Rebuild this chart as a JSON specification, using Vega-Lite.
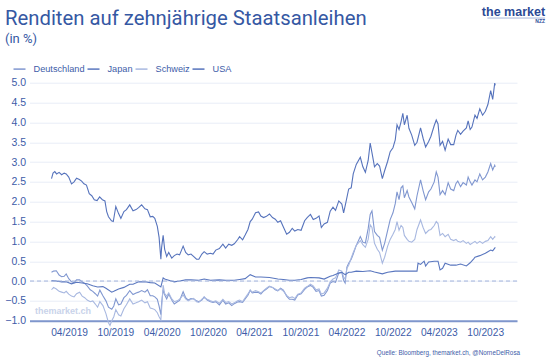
{
"$schema": "https://vega.github.io/schema/vega-lite/v6.json",
"width": 487.5,
"height": 238,
"autosize": {"type": "none"},
"padding": {"left": 29.5, "top": 82.7, "right": 32, "bottom": 38.3},
"background": "white",
"config": {"view": {"stroke": null}, "font": "Liberation Sans"},
"title": {"text": "Renditen auf zehnjährige Staatsanleihen", "subtitle": "(in %)", "anchor": "start", "frame": "group", "dx": -24.5, "offset": -39.5, "font": "Roboto", "fontSize": 20.3, "fontWeight": 400, "color": "#3558a3", "subtitleFont": "Roboto", "subtitleFontSize": 13, "subtitleColor": "#3558a3", "subtitlePadding": 3},
"layer": [
{"data": {"values": [
{"d":"2019-01-02","c":"USA","v":2.58},{"d":"2019-01-08","c":"USA","v":2.72},{"d":"2019-01-15","c":"USA","v":2.76},{"d":"2019-01-22","c":"USA","v":2.70},{"d":"2019-02-01","c":"USA","v":2.74},{"d":"2019-02-11","c":"USA","v":2.68},{"d":"2019-02-21","c":"USA","v":2.72},{"d":"2019-03-01","c":"USA","v":2.70},{"d":"2019-03-11","c":"USA","v":2.62},{"d":"2019-03-22","c":"USA","v":2.45},{"d":"2019-04-01","c":"USA","v":2.50},{"d":"2019-04-11","c":"USA","v":2.59},{"d":"2019-04-22","c":"USA","v":2.56},{"d":"2019-05-01","c":"USA","v":2.52},{"d":"2019-05-10","c":"USA","v":2.45},{"d":"2019-05-20","c":"USA","v":2.42},{"d":"2019-05-31","c":"USA","v":2.20},{"d":"2019-06-10","c":"USA","v":2.15},{"d":"2019-06-20","c":"USA","v":2.05},{"d":"2019-07-01","c":"USA","v":2.03},{"d":"2019-07-11","c":"USA","v":2.12},{"d":"2019-07-22","c":"USA","v":2.05},{"d":"2019-08-01","c":"USA","v":2.02},{"d":"2019-08-08","c":"USA","v":1.75},{"d":"2019-08-15","c":"USA","v":1.62},{"d":"2019-08-27","c":"USA","v":1.52},{"d":"2019-09-03","c":"USA","v":1.50},{"d":"2019-09-13","c":"USA","v":1.88},{"d":"2019-09-24","c":"USA","v":1.70},{"d":"2019-10-03","c":"USA","v":1.58},{"d":"2019-10-15","c":"USA","v":1.75},{"d":"2019-10-25","c":"USA","v":1.80},{"d":"2019-11-07","c":"USA","v":1.92},{"d":"2019-11-20","c":"USA","v":1.77},{"d":"2019-12-02","c":"USA","v":1.80},{"d":"2019-12-12","c":"USA","v":1.85},{"d":"2019-12-24","c":"USA","v":1.92},{"d":"2020-01-06","c":"USA","v":1.82},{"d":"2020-01-16","c":"USA","v":1.80},{"d":"2020-01-27","c":"USA","v":1.62},{"d":"2020-02-06","c":"USA","v":1.63},{"d":"2020-02-14","c":"USA","v":1.58},{"d":"2020-02-24","c":"USA","v":1.38},{"d":"2020-03-02","c":"USA","v":1.10},{"d":"2020-03-09","c":"USA","v":0.55},{"d":"2020-03-12","c":"USA","v":0.85},{"d":"2020-03-18","c":"USA","v":1.15},{"d":"2020-03-24","c":"USA","v":0.80},{"d":"2020-04-01","c":"USA","v":0.62},{"d":"2020-04-09","c":"USA","v":0.72},{"d":"2020-04-21","c":"USA","v":0.58},{"d":"2020-05-01","c":"USA","v":0.64},{"d":"2020-05-12","c":"USA","v":0.68},{"d":"2020-05-22","c":"USA","v":0.66},{"d":"2020-06-05","c":"USA","v":0.88},{"d":"2020-06-15","c":"USA","v":0.72},{"d":"2020-06-25","c":"USA","v":0.66},{"d":"2020-07-06","c":"USA","v":0.68},{"d":"2020-07-16","c":"USA","v":0.62},{"d":"2020-07-28","c":"USA","v":0.55},{"d":"2020-08-06","c":"USA","v":0.55},{"d":"2020-08-18","c":"USA","v":0.68},{"d":"2020-08-27","c":"USA","v":0.74},{"d":"2020-09-08","c":"USA","v":0.68},{"d":"2020-09-21","c":"USA","v":0.70},{"d":"2020-10-01","c":"USA","v":0.68},{"d":"2020-10-12","c":"USA","v":0.78},{"d":"2020-10-26","c":"USA","v":0.82},{"d":"2020-11-09","c":"USA","v":0.93},{"d":"2020-11-20","c":"USA","v":0.83},{"d":"2020-12-02","c":"USA","v":0.93},{"d":"2020-12-14","c":"USA","v":0.90},{"d":"2020-12-24","c":"USA","v":0.94},{"d":"2021-01-06","c":"USA","v":1.04},{"d":"2021-01-14","c":"USA","v":1.12},{"d":"2021-01-26","c":"USA","v":1.04},{"d":"2021-02-05","c":"USA","v":1.16},{"d":"2021-02-16","c":"USA","v":1.30},{"d":"2021-02-25","c":"USA","v":1.50},{"d":"2021-03-05","c":"USA","v":1.56},{"d":"2021-03-18","c":"USA","v":1.72},{"d":"2021-03-30","c":"USA","v":1.74},{"d":"2021-04-08","c":"USA","v":1.64},{"d":"2021-04-19","c":"USA","v":1.60},{"d":"2021-04-30","c":"USA","v":1.63},{"d":"2021-05-12","c":"USA","v":1.69},{"d":"2021-05-24","c":"USA","v":1.60},{"d":"2021-06-04","c":"USA","v":1.56},{"d":"2021-06-14","c":"USA","v":1.48},{"d":"2021-06-25","c":"USA","v":1.52},{"d":"2021-07-06","c":"USA","v":1.36},{"d":"2021-07-19","c":"USA","v":1.18},{"d":"2021-07-30","c":"USA","v":1.23},{"d":"2021-08-10","c":"USA","v":1.33},{"d":"2021-08-20","c":"USA","v":1.26},{"d":"2021-09-01","c":"USA","v":1.30},{"d":"2021-09-14","c":"USA","v":1.28},{"d":"2021-09-28","c":"USA","v":1.52},{"d":"2021-10-08","c":"USA","v":1.60},{"d":"2021-10-21","c":"USA","v":1.68},{"d":"2021-11-01","c":"USA","v":1.55},{"d":"2021-11-12","c":"USA","v":1.58},{"d":"2021-11-24","c":"USA","v":1.64},{"d":"2021-12-03","c":"USA","v":1.35},{"d":"2021-12-14","c":"USA","v":1.44},{"d":"2021-12-27","c":"USA","v":1.48},{"d":"2022-01-07","c":"USA","v":1.76},{"d":"2022-01-18","c":"USA","v":1.86},{"d":"2022-01-28","c":"USA","v":1.78},{"d":"2022-02-10","c":"USA","v":2.02},{"d":"2022-02-22","c":"USA","v":1.94},{"d":"2022-03-01","c":"USA","v":1.72},{"d":"2022-03-10","c":"USA","v":1.98},{"d":"2022-03-21","c":"USA","v":2.32},{"d":"2022-03-31","c":"USA","v":2.35},{"d":"2022-04-08","c":"USA","v":2.70},{"d":"2022-04-20","c":"USA","v":2.94},{"d":"2022-05-06","c":"USA","v":3.12},{"d":"2022-05-16","c":"USA","v":2.88},{"d":"2022-05-26","c":"USA","v":2.74},{"d":"2022-06-06","c":"USA","v":3.04},{"d":"2022-06-14","c":"USA","v":3.48},{"d":"2022-06-24","c":"USA","v":3.13},{"d":"2022-07-01","c":"USA","v":2.88},{"d":"2022-07-12","c":"USA","v":2.96},{"d":"2022-07-21","c":"USA","v":2.90},{"d":"2022-08-01","c":"USA","v":2.58},{"d":"2022-08-10","c":"USA","v":2.78},{"d":"2022-08-22","c":"USA","v":3.02},{"d":"2022-09-01","c":"USA","v":3.26},{"d":"2022-09-12","c":"USA","v":3.36},{"d":"2022-09-21","c":"USA","v":3.56},{"d":"2022-09-28","c":"USA","v":3.94},{"d":"2022-10-06","c":"USA","v":3.82},{"d":"2022-10-14","c":"USA","v":4.02},{"d":"2022-10-21","c":"USA","v":4.23},{"d":"2022-10-27","c":"USA","v":3.94},{"d":"2022-11-07","c":"USA","v":4.18},{"d":"2022-11-14","c":"USA","v":3.85},{"d":"2022-11-25","c":"USA","v":3.68},{"d":"2022-12-07","c":"USA","v":3.42},{"d":"2022-12-16","c":"USA","v":3.50},{"d":"2022-12-30","c":"USA","v":3.86},{"d":"2023-01-09","c":"USA","v":3.60},{"d":"2023-01-19","c":"USA","v":3.38},{"d":"2023-01-31","c":"USA","v":3.52},{"d":"2023-02-09","c":"USA","v":3.65},{"d":"2023-02-22","c":"USA","v":3.92},{"d":"2023-03-02","c":"USA","v":4.06},{"d":"2023-03-09","c":"USA","v":3.96},{"d":"2023-03-17","c":"USA","v":3.42},{"d":"2023-03-27","c":"USA","v":3.52},{"d":"2023-04-06","c":"USA","v":3.30},{"d":"2023-04-18","c":"USA","v":3.58},{"d":"2023-04-28","c":"USA","v":3.44},{"d":"2023-05-10","c":"USA","v":3.44},{"d":"2023-05-19","c":"USA","v":3.68},{"d":"2023-05-26","c":"USA","v":3.80},{"d":"2023-06-06","c":"USA","v":3.70},{"d":"2023-06-16","c":"USA","v":3.78},{"d":"2023-06-29","c":"USA","v":3.86},{"d":"2023-07-06","c":"USA","v":4.04},{"d":"2023-07-14","c":"USA","v":3.82},{"d":"2023-07-21","c":"USA","v":3.88},{"d":"2023-08-02","c":"USA","v":4.18},{"d":"2023-08-10","c":"USA","v":4.10},{"d":"2023-08-21","c":"USA","v":4.34},{"d":"2023-09-01","c":"USA","v":4.18},{"d":"2023-09-12","c":"USA","v":4.28},{"d":"2023-09-22","c":"USA","v":4.45},{"d":"2023-10-03","c":"USA","v":4.80},{"d":"2023-10-11","c":"USA","v":4.58},{"d":"2023-10-19","c":"USA","v":4.99},{"d":"2023-10-21","c":"USA","v":4.93},
{"d":"2019-01-02","c":"Deutschland","v":0.22},{"d":"2019-01-10","c":"Deutschland","v":0.25},{"d":"2019-01-21","c":"Deutschland","v":0.26},{"d":"2019-02-01","c":"Deutschland","v":0.15},{"d":"2019-02-11","c":"Deutschland","v":0.11},{"d":"2019-02-21","c":"Deutschland","v":0.12},{"d":"2019-03-01","c":"Deutschland","v":0.18},{"d":"2019-03-11","c":"Deutschland","v":0.06},{"d":"2019-03-22","c":"Deutschland","v":-0.02},{"d":"2019-04-01","c":"Deutschland","v":-0.04},{"d":"2019-04-11","c":"Deutschland","v":0.03},{"d":"2019-04-23","c":"Deutschland","v":0.03},{"d":"2019-05-03","c":"Deutschland","v":-0.02},{"d":"2019-05-13","c":"Deutschland","v":-0.06},{"d":"2019-05-23","c":"Deutschland","v":-0.12},{"d":"2019-06-04","c":"Deutschland","v":-0.22},{"d":"2019-06-14","c":"Deutschland","v":-0.26},{"d":"2019-06-24","c":"Deutschland","v":-0.32},{"d":"2019-07-03","c":"Deutschland","v":-0.38},{"d":"2019-07-12","c":"Deutschland","v":-0.23},{"d":"2019-07-24","c":"Deutschland","v":-0.37},{"d":"2019-08-05","c":"Deutschland","v":-0.50},{"d":"2019-08-15","c":"Deutschland","v":-0.66},{"d":"2019-08-28","c":"Deutschland","v":-0.71},{"d":"2019-09-05","c":"Deutschland","v":-0.63},{"d":"2019-09-13","c":"Deutschland","v":-0.45},{"d":"2019-09-24","c":"Deutschland","v":-0.60},{"d":"2019-10-03","c":"Deutschland","v":-0.58},{"d":"2019-10-15","c":"Deutschland","v":-0.42},{"d":"2019-10-25","c":"Deutschland","v":-0.36},{"d":"2019-11-07","c":"Deutschland","v":-0.24},{"d":"2019-11-20","c":"Deutschland","v":-0.34},{"d":"2019-12-02","c":"Deutschland","v":-0.30},{"d":"2019-12-12","c":"Deutschland","v":-0.28},{"d":"2019-12-24","c":"Deutschland","v":-0.24},{"d":"2020-01-06","c":"Deutschland","v":-0.28},{"d":"2020-01-16","c":"Deutschland","v":-0.22},{"d":"2020-01-27","c":"Deutschland","v":-0.37},{"d":"2020-02-06","c":"Deutschland","v":-0.37},{"d":"2020-02-14","c":"Deutschland","v":-0.40},{"d":"2020-02-24","c":"Deutschland","v":-0.46},{"d":"2020-03-02","c":"Deutschland","v":-0.63},{"d":"2020-03-09","c":"Deutschland","v":-0.85},{"d":"2020-03-12","c":"Deutschland","v":-0.55},{"d":"2020-03-18","c":"Deutschland","v":-0.22},{"d":"2020-03-24","c":"Deutschland","v":-0.35},{"d":"2020-04-01","c":"Deutschland","v":-0.45},{"d":"2020-04-09","c":"Deutschland","v":-0.33},{"d":"2020-04-21","c":"Deutschland","v":-0.48},{"d":"2020-05-01","c":"Deutschland","v":-0.58},{"d":"2020-05-12","c":"Deutschland","v":-0.53},{"d":"2020-05-22","c":"Deutschland","v":-0.49},{"d":"2020-06-05","c":"Deutschland","v":-0.27},{"d":"2020-06-15","c":"Deutschland","v":-0.42},{"d":"2020-06-25","c":"Deutschland","v":-0.48},{"d":"2020-07-06","c":"Deutschland","v":-0.44},{"d":"2020-07-16","c":"Deutschland","v":-0.45},{"d":"2020-07-28","c":"Deutschland","v":-0.50},{"d":"2020-08-06","c":"Deutschland","v":-0.52},{"d":"2020-08-18","c":"Deutschland","v":-0.48},{"d":"2020-08-27","c":"Deutschland","v":-0.40},{"d":"2020-09-08","c":"Deutschland","v":-0.48},{"d":"2020-09-21","c":"Deutschland","v":-0.52},{"d":"2020-10-01","c":"Deutschland","v":-0.54},{"d":"2020-10-12","c":"Deutschland","v":-0.52},{"d":"2020-10-26","c":"Deutschland","v":-0.60},{"d":"2020-11-09","c":"Deutschland","v":-0.48},{"d":"2020-11-20","c":"Deutschland","v":-0.58},{"d":"2020-12-02","c":"Deutschland","v":-0.55},{"d":"2020-12-14","c":"Deutschland","v":-0.62},{"d":"2020-12-24","c":"Deutschland","v":-0.57},{"d":"2021-01-06","c":"Deutschland","v":-0.53},{"d":"2021-01-14","c":"Deutschland","v":-0.52},{"d":"2021-01-26","c":"Deutschland","v":-0.54},{"d":"2021-02-05","c":"Deutschland","v":-0.45},{"d":"2021-02-16","c":"Deutschland","v":-0.36},{"d":"2021-02-25","c":"Deutschland","v":-0.23},{"d":"2021-03-05","c":"Deutschland","v":-0.30},{"d":"2021-03-18","c":"Deutschland","v":-0.28},{"d":"2021-03-30","c":"Deutschland","v":-0.29},{"d":"2021-04-08","c":"Deutschland","v":-0.33},{"d":"2021-04-19","c":"Deutschland","v":-0.25},{"d":"2021-04-30","c":"Deutschland","v":-0.20},{"d":"2021-05-12","c":"Deutschland","v":-0.14},{"d":"2021-05-24","c":"Deutschland","v":-0.16},{"d":"2021-06-04","c":"Deutschland","v":-0.22},{"d":"2021-06-14","c":"Deutschland","v":-0.25},{"d":"2021-06-25","c":"Deutschland","v":-0.18},{"d":"2021-07-06","c":"Deutschland","v":-0.23},{"d":"2021-07-19","c":"Deutschland","v":-0.38},{"d":"2021-07-30","c":"Deutschland","v":-0.46},{"d":"2021-08-10","c":"Deutschland","v":-0.46},{"d":"2021-08-20","c":"Deutschland","v":-0.48},{"d":"2021-09-01","c":"Deutschland","v":-0.35},{"d":"2021-09-14","c":"Deutschland","v":-0.32},{"d":"2021-09-28","c":"Deutschland","v":-0.21},{"d":"2021-10-08","c":"Deutschland","v":-0.15},{"d":"2021-10-21","c":"Deutschland","v":-0.11},{"d":"2021-11-01","c":"Deutschland","v":-0.16},{"d":"2021-11-12","c":"Deutschland","v":-0.26},{"d":"2021-11-24","c":"Deutschland","v":-0.24},{"d":"2021-12-03","c":"Deutschland","v":-0.38},{"d":"2021-12-14","c":"Deutschland","v":-0.36},{"d":"2021-12-27","c":"Deutschland","v":-0.24},{"d":"2022-01-07","c":"Deutschland","v":-0.05},{"d":"2022-01-18","c":"Deutschland","v":-0.01},{"d":"2022-01-28","c":"Deutschland","v":-0.03},{"d":"2022-02-10","c":"Deutschland","v":0.21},{"d":"2022-02-22","c":"Deutschland","v":0.21},{"d":"2022-03-01","c":"Deutschland","v":0.02},{"d":"2022-03-07","c":"Deutschland","v":-0.05},{"d":"2022-03-14","c":"Deutschland","v":0.35},{"d":"2022-03-21","c":"Deutschland","v":0.45},{"d":"2022-03-31","c":"Deutschland","v":0.55},{"d":"2022-04-08","c":"Deutschland","v":0.68},{"d":"2022-04-20","c":"Deutschland","v":0.90},{"d":"2022-05-06","c":"Deutschland","v":1.12},{"d":"2022-05-16","c":"Deutschland","v":0.98},{"d":"2022-05-26","c":"Deutschland","v":0.96},{"d":"2022-06-06","c":"Deutschland","v":1.32},{"d":"2022-06-14","c":"Deutschland","v":1.68},{"d":"2022-06-21","c":"Deutschland","v":1.77},{"d":"2022-07-01","c":"Deutschland","v":1.25},{"d":"2022-07-12","c":"Deutschland","v":1.15},{"d":"2022-07-21","c":"Deutschland","v":1.10},{"d":"2022-08-01","c":"Deutschland","v":0.78},{"d":"2022-08-10","c":"Deutschland","v":0.95},{"d":"2022-08-22","c":"Deutschland","v":1.28},{"d":"2022-09-01","c":"Deutschland","v":1.55},{"d":"2022-09-12","c":"Deutschland","v":1.72},{"d":"2022-09-21","c":"Deutschland","v":1.95},{"d":"2022-09-28","c":"Deutschland","v":2.25},{"d":"2022-10-06","c":"Deutschland","v":2.05},{"d":"2022-10-14","c":"Deutschland","v":2.35},{"d":"2022-10-21","c":"Deutschland","v":2.40},{"d":"2022-10-27","c":"Deutschland","v":2.10},{"d":"2022-11-07","c":"Deutschland","v":2.28},{"d":"2022-11-14","c":"Deutschland","v":2.12},{"d":"2022-11-25","c":"Deutschland","v":1.98},{"d":"2022-12-07","c":"Deutschland","v":1.82},{"d":"2022-12-16","c":"Deutschland","v":2.15},{"d":"2022-12-30","c":"Deutschland","v":2.55},{"d":"2023-01-09","c":"Deutschland","v":2.28},{"d":"2023-01-19","c":"Deutschland","v":2.05},{"d":"2023-01-31","c":"Deutschland","v":2.25},{"d":"2023-02-09","c":"Deutschland","v":2.32},{"d":"2023-02-22","c":"Deutschland","v":2.50},{"d":"2023-03-02","c":"Deutschland","v":2.75},{"d":"2023-03-09","c":"Deutschland","v":2.62},{"d":"2023-03-17","c":"Deutschland","v":2.18},{"d":"2023-03-27","c":"Deutschland","v":2.28},{"d":"2023-04-06","c":"Deutschland","v":2.18},{"d":"2023-04-18","c":"Deutschland","v":2.48},{"d":"2023-04-28","c":"Deutschland","v":2.32},{"d":"2023-05-10","c":"Deutschland","v":2.28},{"d":"2023-05-19","c":"Deutschland","v":2.46},{"d":"2023-05-26","c":"Deutschland","v":2.52},{"d":"2023-06-06","c":"Deutschland","v":2.38},{"d":"2023-06-16","c":"Deutschland","v":2.48},{"d":"2023-06-29","c":"Deutschland","v":2.42},{"d":"2023-07-06","c":"Deutschland","v":2.62},{"d":"2023-07-14","c":"Deutschland","v":2.50},{"d":"2023-07-21","c":"Deutschland","v":2.42},{"d":"2023-08-02","c":"Deutschland","v":2.55},{"d":"2023-08-10","c":"Deutschland","v":2.50},{"d":"2023-08-21","c":"Deutschland","v":2.70},{"d":"2023-09-01","c":"Deutschland","v":2.55},{"d":"2023-09-12","c":"Deutschland","v":2.62},{"d":"2023-09-22","c":"Deutschland","v":2.75},{"d":"2023-10-03","c":"Deutschland","v":2.96},{"d":"2023-10-11","c":"Deutschland","v":2.80},{"d":"2023-10-19","c":"Deutschland","v":2.92},{"d":"2023-10-21","c":"Deutschland","v":2.88},
{"d":"2019-01-02","c":"Schweiz","v":-0.22},{"d":"2019-01-10","c":"Schweiz","v":-0.16},{"d":"2019-01-21","c":"Schweiz","v":-0.20},{"d":"2019-02-01","c":"Schweiz","v":-0.26},{"d":"2019-02-11","c":"Schweiz","v":-0.28},{"d":"2019-02-21","c":"Schweiz","v":-0.30},{"d":"2019-03-01","c":"Schweiz","v":-0.26},{"d":"2019-03-11","c":"Schweiz","v":-0.33},{"d":"2019-03-22","c":"Schweiz","v":-0.38},{"d":"2019-04-01","c":"Schweiz","v":-0.40},{"d":"2019-04-11","c":"Schweiz","v":-0.32},{"d":"2019-04-23","c":"Schweiz","v":-0.28},{"d":"2019-05-03","c":"Schweiz","v":-0.38},{"d":"2019-05-13","c":"Schweiz","v":-0.42},{"d":"2019-05-23","c":"Schweiz","v":-0.48},{"d":"2019-06-04","c":"Schweiz","v":-0.52},{"d":"2019-06-14","c":"Schweiz","v":-0.50},{"d":"2019-06-24","c":"Schweiz","v":-0.58},{"d":"2019-07-03","c":"Schweiz","v":-0.66},{"d":"2019-07-12","c":"Schweiz","v":-0.52},{"d":"2019-07-24","c":"Schweiz","v":-0.62},{"d":"2019-08-05","c":"Schweiz","v":-0.82},{"d":"2019-08-15","c":"Schweiz","v":-1.05},{"d":"2019-08-21","c":"Schweiz","v":-1.12},{"d":"2019-08-28","c":"Schweiz","v":-1.00},{"d":"2019-09-05","c":"Schweiz","v":-0.90},{"d":"2019-09-13","c":"Schweiz","v":-0.72},{"d":"2019-09-24","c":"Schweiz","v":-0.85},{"d":"2019-10-03","c":"Schweiz","v":-0.88},{"d":"2019-10-15","c":"Schweiz","v":-0.70},{"d":"2019-10-25","c":"Schweiz","v":-0.60},{"d":"2019-11-07","c":"Schweiz","v":-0.45},{"d":"2019-11-20","c":"Schweiz","v":-0.58},{"d":"2019-12-02","c":"Schweiz","v":-0.55},{"d":"2019-12-12","c":"Schweiz","v":-0.52},{"d":"2019-12-24","c":"Schweiz","v":-0.48},{"d":"2020-01-06","c":"Schweiz","v":-0.55},{"d":"2020-01-16","c":"Schweiz","v":-0.52},{"d":"2020-01-27","c":"Schweiz","v":-0.68},{"d":"2020-02-06","c":"Schweiz","v":-0.70},{"d":"2020-02-14","c":"Schweiz","v":-0.72},{"d":"2020-02-24","c":"Schweiz","v":-0.80},{"d":"2020-03-02","c":"Schweiz","v":-0.90},{"d":"2020-03-09","c":"Schweiz","v":-0.98},{"d":"2020-03-12","c":"Schweiz","v":-0.70},{"d":"2020-03-18","c":"Schweiz","v":-0.10},{"d":"2020-03-24","c":"Schweiz","v":-0.32},{"d":"2020-04-01","c":"Schweiz","v":-0.38},{"d":"2020-04-09","c":"Schweiz","v":-0.30},{"d":"2020-04-21","c":"Schweiz","v":-0.45},{"d":"2020-05-01","c":"Schweiz","v":-0.52},{"d":"2020-05-12","c":"Schweiz","v":-0.50},{"d":"2020-05-22","c":"Schweiz","v":-0.46},{"d":"2020-06-05","c":"Schweiz","v":-0.35},{"d":"2020-06-15","c":"Schweiz","v":-0.45},{"d":"2020-06-25","c":"Schweiz","v":-0.50},{"d":"2020-07-06","c":"Schweiz","v":-0.46},{"d":"2020-07-16","c":"Schweiz","v":-0.44},{"d":"2020-07-28","c":"Schweiz","v":-0.52},{"d":"2020-08-06","c":"Schweiz","v":-0.54},{"d":"2020-08-18","c":"Schweiz","v":-0.46},{"d":"2020-08-27","c":"Schweiz","v":-0.42},{"d":"2020-09-08","c":"Schweiz","v":-0.46},{"d":"2020-09-21","c":"Schweiz","v":-0.50},{"d":"2020-10-01","c":"Schweiz","v":-0.52},{"d":"2020-10-12","c":"Schweiz","v":-0.50},{"d":"2020-10-26","c":"Schweiz","v":-0.56},{"d":"2020-11-09","c":"Schweiz","v":-0.46},{"d":"2020-11-20","c":"Schweiz","v":-0.54},{"d":"2020-12-02","c":"Schweiz","v":-0.52},{"d":"2020-12-14","c":"Schweiz","v":-0.58},{"d":"2020-12-24","c":"Schweiz","v":-0.55},{"d":"2021-01-06","c":"Schweiz","v":-0.50},{"d":"2021-01-14","c":"Schweiz","v":-0.48},{"d":"2021-01-26","c":"Schweiz","v":-0.52},{"d":"2021-02-05","c":"Schweiz","v":-0.42},{"d":"2021-02-16","c":"Schweiz","v":-0.32},{"d":"2021-02-25","c":"Schweiz","v":-0.24},{"d":"2021-03-05","c":"Schweiz","v":-0.28},{"d":"2021-03-18","c":"Schweiz","v":-0.24},{"d":"2021-03-30","c":"Schweiz","v":-0.27},{"d":"2021-04-08","c":"Schweiz","v":-0.30},{"d":"2021-04-19","c":"Schweiz","v":-0.24},{"d":"2021-04-30","c":"Schweiz","v":-0.18},{"d":"2021-05-12","c":"Schweiz","v":-0.13},{"d":"2021-05-24","c":"Schweiz","v":-0.16},{"d":"2021-06-04","c":"Schweiz","v":-0.20},{"d":"2021-06-14","c":"Schweiz","v":-0.24},{"d":"2021-06-25","c":"Schweiz","v":-0.20},{"d":"2021-07-06","c":"Schweiz","v":-0.25},{"d":"2021-07-19","c":"Schweiz","v":-0.36},{"d":"2021-07-30","c":"Schweiz","v":-0.42},{"d":"2021-08-10","c":"Schweiz","v":-0.40},{"d":"2021-08-20","c":"Schweiz","v":-0.44},{"d":"2021-09-01","c":"Schweiz","v":-0.33},{"d":"2021-09-14","c":"Schweiz","v":-0.30},{"d":"2021-09-28","c":"Schweiz","v":-0.18},{"d":"2021-10-08","c":"Schweiz","v":-0.14},{"d":"2021-10-21","c":"Schweiz","v":-0.08},{"d":"2021-11-01","c":"Schweiz","v":-0.12},{"d":"2021-11-12","c":"Schweiz","v":-0.22},{"d":"2021-11-24","c":"Schweiz","v":-0.20},{"d":"2021-12-03","c":"Schweiz","v":-0.33},{"d":"2021-12-14","c":"Schweiz","v":-0.30},{"d":"2021-12-27","c":"Schweiz","v":-0.18},{"d":"2022-01-07","c":"Schweiz","v":-0.02},{"d":"2022-01-18","c":"Schweiz","v":0.05},{"d":"2022-01-28","c":"Schweiz","v":0.08},{"d":"2022-02-10","c":"Schweiz","v":0.28},{"d":"2022-02-22","c":"Schweiz","v":0.25},{"d":"2022-03-01","c":"Schweiz","v":0.10},{"d":"2022-03-07","c":"Schweiz","v":0.05},{"d":"2022-03-14","c":"Schweiz","v":0.32},{"d":"2022-03-21","c":"Schweiz","v":0.40},{"d":"2022-03-31","c":"Schweiz","v":0.58},{"d":"2022-04-08","c":"Schweiz","v":0.72},{"d":"2022-04-20","c":"Schweiz","v":0.90},{"d":"2022-05-06","c":"Schweiz","v":1.02},{"d":"2022-05-16","c":"Schweiz","v":0.92},{"d":"2022-05-26","c":"Schweiz","v":0.85},{"d":"2022-06-06","c":"Schweiz","v":1.05},{"d":"2022-06-14","c":"Schweiz","v":1.42},{"d":"2022-06-21","c":"Schweiz","v":1.35},{"d":"2022-07-01","c":"Schweiz","v":0.95},{"d":"2022-07-12","c":"Schweiz","v":0.80},{"d":"2022-07-21","c":"Schweiz","v":0.72},{"d":"2022-08-01","c":"Schweiz","v":0.45},{"d":"2022-08-10","c":"Schweiz","v":0.60},{"d":"2022-08-22","c":"Schweiz","v":0.88},{"d":"2022-09-01","c":"Schweiz","v":1.05},{"d":"2022-09-12","c":"Schweiz","v":1.18},{"d":"2022-09-21","c":"Schweiz","v":1.30},{"d":"2022-09-28","c":"Schweiz","v":1.50},{"d":"2022-10-06","c":"Schweiz","v":1.28},{"d":"2022-10-14","c":"Schweiz","v":1.40},{"d":"2022-10-21","c":"Schweiz","v":1.35},{"d":"2022-10-27","c":"Schweiz","v":1.15},{"d":"2022-11-07","c":"Schweiz","v":1.05},{"d":"2022-11-14","c":"Schweiz","v":1.00},{"d":"2022-11-25","c":"Schweiz","v":0.98},{"d":"2022-12-07","c":"Schweiz","v":1.05},{"d":"2022-12-16","c":"Schweiz","v":1.30},{"d":"2022-12-30","c":"Schweiz","v":1.54},{"d":"2023-01-09","c":"Schweiz","v":1.35},{"d":"2023-01-19","c":"Schweiz","v":1.20},{"d":"2023-01-31","c":"Schweiz","v":1.28},{"d":"2023-02-09","c":"Schweiz","v":1.30},{"d":"2023-02-22","c":"Schweiz","v":1.40},{"d":"2023-03-02","c":"Schweiz","v":1.50},{"d":"2023-03-09","c":"Schweiz","v":1.45},{"d":"2023-03-17","c":"Schweiz","v":1.15},{"d":"2023-03-27","c":"Schweiz","v":1.20},{"d":"2023-04-06","c":"Schweiz","v":1.12},{"d":"2023-04-18","c":"Schweiz","v":1.18},{"d":"2023-04-28","c":"Schweiz","v":1.05},{"d":"2023-05-10","c":"Schweiz","v":1.02},{"d":"2023-05-19","c":"Schweiz","v":1.05},{"d":"2023-05-26","c":"Schweiz","v":1.00},{"d":"2023-06-06","c":"Schweiz","v":0.98},{"d":"2023-06-16","c":"Schweiz","v":1.02},{"d":"2023-06-29","c":"Schweiz","v":0.95},{"d":"2023-07-06","c":"Schweiz","v":0.98},{"d":"2023-07-14","c":"Schweiz","v":0.92},{"d":"2023-07-21","c":"Schweiz","v":0.95},{"d":"2023-08-02","c":"Schweiz","v":1.00},{"d":"2023-08-10","c":"Schweiz","v":0.95},{"d":"2023-08-21","c":"Schweiz","v":1.00},{"d":"2023-09-01","c":"Schweiz","v":0.95},{"d":"2023-09-12","c":"Schweiz","v":1.00},{"d":"2023-09-22","c":"Schweiz","v":1.02},{"d":"2023-10-03","c":"Schweiz","v":1.12},{"d":"2023-10-11","c":"Schweiz","v":1.05},{"d":"2023-10-19","c":"Schweiz","v":1.12},{"d":"2023-10-21","c":"Schweiz","v":1.10},
{"d":"2019-01-02","c":"Japan","v":0.01},{"d":"2019-01-21","c":"Japan","v":0.00},{"d":"2019-02-11","c":"Japan","v":-0.02},{"d":"2019-03-01","c":"Japan","v":-0.02},{"d":"2019-03-22","c":"Japan","v":-0.07},{"d":"2019-04-11","c":"Japan","v":-0.03},{"d":"2019-05-03","c":"Japan","v":-0.05},{"d":"2019-05-23","c":"Japan","v":-0.07},{"d":"2019-06-14","c":"Japan","v":-0.12},{"d":"2019-07-03","c":"Japan","v":-0.15},{"d":"2019-07-24","c":"Japan","v":-0.14},{"d":"2019-08-05","c":"Japan","v":-0.18},{"d":"2019-08-28","c":"Japan","v":-0.28},{"d":"2019-09-05","c":"Japan","v":-0.26},{"d":"2019-09-24","c":"Japan","v":-0.20},{"d":"2019-10-15","c":"Japan","v":-0.16},{"d":"2019-11-07","c":"Japan","v":-0.08},{"d":"2019-11-20","c":"Japan","v":-0.08},{"d":"2019-12-12","c":"Japan","v":-0.02},{"d":"2020-01-06","c":"Japan","v":-0.02},{"d":"2020-01-27","c":"Japan","v":-0.04},{"d":"2020-02-14","c":"Japan","v":-0.05},{"d":"2020-03-09","c":"Japan","v":-0.15},{"d":"2020-03-18","c":"Japan","v":0.08},{"d":"2020-03-24","c":"Japan","v":0.05},{"d":"2020-04-09","c":"Japan","v":0.02},{"d":"2020-05-01","c":"Japan","v":-0.02},{"d":"2020-05-22","c":"Japan","v":0.00},{"d":"2020-06-15","c":"Japan","v":0.03},{"d":"2020-07-06","c":"Japan","v":0.03},{"d":"2020-08-06","c":"Japan","v":0.02},{"d":"2020-08-27","c":"Japan","v":0.05},{"d":"2020-09-21","c":"Japan","v":0.02},{"d":"2020-10-26","c":"Japan","v":0.03},{"d":"2020-11-20","c":"Japan","v":0.02},{"d":"2020-12-24","c":"Japan","v":0.02},{"d":"2021-01-14","c":"Japan","v":0.04},{"d":"2021-02-05","c":"Japan","v":0.06},{"d":"2021-02-25","c":"Japan","v":0.16},{"d":"2021-03-18","c":"Japan","v":0.10},{"d":"2021-04-08","c":"Japan","v":0.10},{"d":"2021-05-12","c":"Japan","v":0.09},{"d":"2021-06-14","c":"Japan","v":0.05},{"d":"2021-07-06","c":"Japan","v":0.04},{"d":"2021-07-30","c":"Japan","v":0.02},{"d":"2021-08-20","c":"Japan","v":0.02},{"d":"2021-09-14","c":"Japan","v":0.04},{"d":"2021-10-08","c":"Japan","v":0.08},{"d":"2021-10-21","c":"Japan","v":0.09},{"d":"2021-11-24","c":"Japan","v":0.08},{"d":"2021-12-14","c":"Japan","v":0.05},{"d":"2022-01-07","c":"Japan","v":0.12},{"d":"2022-01-18","c":"Japan","v":0.14},{"d":"2022-02-10","c":"Japan","v":0.20},{"d":"2022-02-22","c":"Japan","v":0.22},{"d":"2022-03-07","c":"Japan","v":0.16},{"d":"2022-03-21","c":"Japan","v":0.22},{"d":"2022-03-31","c":"Japan","v":0.22},{"d":"2022-04-20","c":"Japan","v":0.25},{"d":"2022-05-16","c":"Japan","v":0.24},{"d":"2022-06-14","c":"Japan","v":0.26},{"d":"2022-07-01","c":"Japan","v":0.23},{"d":"2022-08-01","c":"Japan","v":0.18},{"d":"2022-08-22","c":"Japan","v":0.22},{"d":"2022-09-21","c":"Japan","v":0.25},{"d":"2022-10-21","c":"Japan","v":0.25},{"d":"2022-11-25","c":"Japan","v":0.25},{"d":"2022-12-16","c":"Japan","v":0.25},{"d":"2022-12-20","c":"Japan","v":0.45},{"d":"2022-12-30","c":"Japan","v":0.42},{"d":"2023-01-13","c":"Japan","v":0.50},{"d":"2023-01-19","c":"Japan","v":0.38},{"d":"2023-01-31","c":"Japan","v":0.48},{"d":"2023-02-22","c":"Japan","v":0.50},{"d":"2023-03-09","c":"Japan","v":0.50},{"d":"2023-03-17","c":"Japan","v":0.28},{"d":"2023-03-27","c":"Japan","v":0.32},{"d":"2023-04-06","c":"Japan","v":0.45},{"d":"2023-04-28","c":"Japan","v":0.40},{"d":"2023-05-19","c":"Japan","v":0.40},{"d":"2023-06-06","c":"Japan","v":0.43},{"d":"2023-06-29","c":"Japan","v":0.38},{"d":"2023-07-14","c":"Japan","v":0.46},{"d":"2023-07-28","c":"Japan","v":0.56},{"d":"2023-08-02","c":"Japan","v":0.60},{"d":"2023-08-21","c":"Japan","v":0.64},{"d":"2023-09-12","c":"Japan","v":0.70},{"d":"2023-09-22","c":"Japan","v":0.74},{"d":"2023-10-03","c":"Japan","v":0.78},{"d":"2023-10-11","c":"Japan","v":0.76},{"d":"2023-10-19","c":"Japan","v":0.83},{"d":"2023-10-21","c":"Japan","v":0.85}
]},
 "mark": {"type": "line", "strokeWidth": 1.1, "interpolate": "linear"},
 "encoding": {
  "x": {"field": "d", "type": "temporal",
    "scale": {"domain": [{"year": 2018, "month": 10, "date": 7}, {"year": 2024, "month": 1, "date": 15}]},
    "axis": {"values": [{"year": 2019, "month": 4, "date": 1}, {"year": 2019, "month": 10, "date": 1}, {"year": 2020, "month": 4, "date": 1}, {"year": 2020, "month": 10, "date": 1}, {"year": 2021, "month": 4, "date": 1}, {"year": 2021, "month": 10, "date": 1}, {"year": 2022, "month": 4, "date": 1}, {"year": 2022, "month": 10, "date": 1}, {"year": 2023, "month": 4, "date": 1}, {"year": 2023, "month": 10, "date": 1}],
      "tickCount": 20, "format": "%m/%Y", "title": null, "grid": false, "ticks": false, "domain": true, "domainColor": "#7f96cc", "domainWidth": 2,
      "labelColor": "#3d5ca8", "labelFontSize": 10.2, "labelPadding": 7, "labelOffset": -5, "labelFont": "Liberation Sans", "labelFlush": false, "labelOverlap": false}},
  "y": {"field": "v", "type": "quantitative",
    "scale": {"domain": [-1, 5], "nice": false, "zero": false},
    "axis": {"values": [-1, -0.5, 0, 0.5, 1, 1.5, 2, 2.5, 3, 3.5, 4, 4.5, 5], "tickCount": 20, "format": ".1f", "title": null, "grid": true, "gridColor": "#e8edf7", "gridWidth": 1, "ticks": false, "domain": false, "labelOverlap": false, "labelFlush": false,
      "labelColor": "#3d5ca8", "labelFontSize": 10.5, "labelPadding": 4, "labelFont": "Liberation Sans"}},
  "color": {"field": "c", "type": "nominal",
    "scale": {"domain": ["Deutschland", "Japan", "Schweiz", "USA"], "range": ["#8097d0", "#5a77bf", "#a8b8e0", "#5673bc"]},
    "legend": {"title": null, "orient": "none", "legendX": -17, "legendY": -21, "direction": "horizontal", "symbolType": "stroke", "symbolSize": 144, "symbolStrokeWidth": 1.5, "labelColor": "#3d5ca8", "labelFontSize": 9.2, "labelFont": "Liberation Sans", "columnPadding": -1, "symbolOffset": 0, "labelOffset": 7}}
 }
},
{"data": {"values": [{}]},
 "mark": {"type": "rule", "stroke": "#a4b4dc", "strokeDash": [4, 3], "strokeWidth": 1},
 "encoding": {"y": {"datum": 0, "type": "quantitative"}}},
{"data": {"values": [{}]},
 "mark": {"type": "text", "align": "left", "baseline": "middle", "fontSize": 9, "fontWeight": "bold", "color": "#c9d3ea", "font": "Liberation Sans"},
 "encoding": {"x": {"datum": {"year": 2018, "month": 10, "date": 29}, "type": "temporal"}, "y": {"datum": -0.76, "type": "quantitative"}, "text": {"value": "themarket.ch"}}},
{"data": {"values": [{}]},
 "mark": {"type": "text", "align": "right", "baseline": "middle", "fontSize": 6.3, "color": "#3d5ca8", "font": "Liberation Sans"},
 "encoding": {"x": {"datum": {"year": 2024, "month": 1, "date": 27}, "type": "temporal"}, "y": {"datum": -1.82, "type": "quantitative"}, "text": {"value": "Quelle: Bloomberg, themarket.ch, @NorneDelRosa"}}},
{"data": {"values": [{}]},
 "mark": {"type": "rule", "stroke": "#6d86c4", "strokeWidth": 0.6},
 "encoding": {"x": {"datum": {"year": 2023, "month": 9, "date": 20}, "type": "temporal"}, "x2": {"datum": {"year": 2024, "month": 5, "date": 5}}, "y": {"datum": 6.63, "type": "quantitative"}}},
{"data": {"values": [{}]},
 "mark": {"type": "text", "align": "right", "baseline": "alphabetic", "fontSize": 12.5, "fontWeight": "bold", "color": "#2c4a96", "font": "Liberation Sans"},
 "encoding": {"x": {"datum": {"year": 2024, "month": 5, "date": 5}, "type": "temporal"}, "y": {"datum": 6.68, "type": "quantitative"}, "text": {"value": "the market"}}},
{"data": {"values": [{}]},
 "mark": {"type": "text", "align": "right", "baseline": "top", "fontSize": 5, "fontWeight": "bold", "color": "#2c4a96", "font": "Liberation Sans"},
 "encoding": {"x": {"datum": {"year": 2024, "month": 5, "date": 5}, "type": "temporal"}, "y": {"datum": 6.6, "type": "quantitative"}, "text": {"value": "NZZ"}}}
]
}
